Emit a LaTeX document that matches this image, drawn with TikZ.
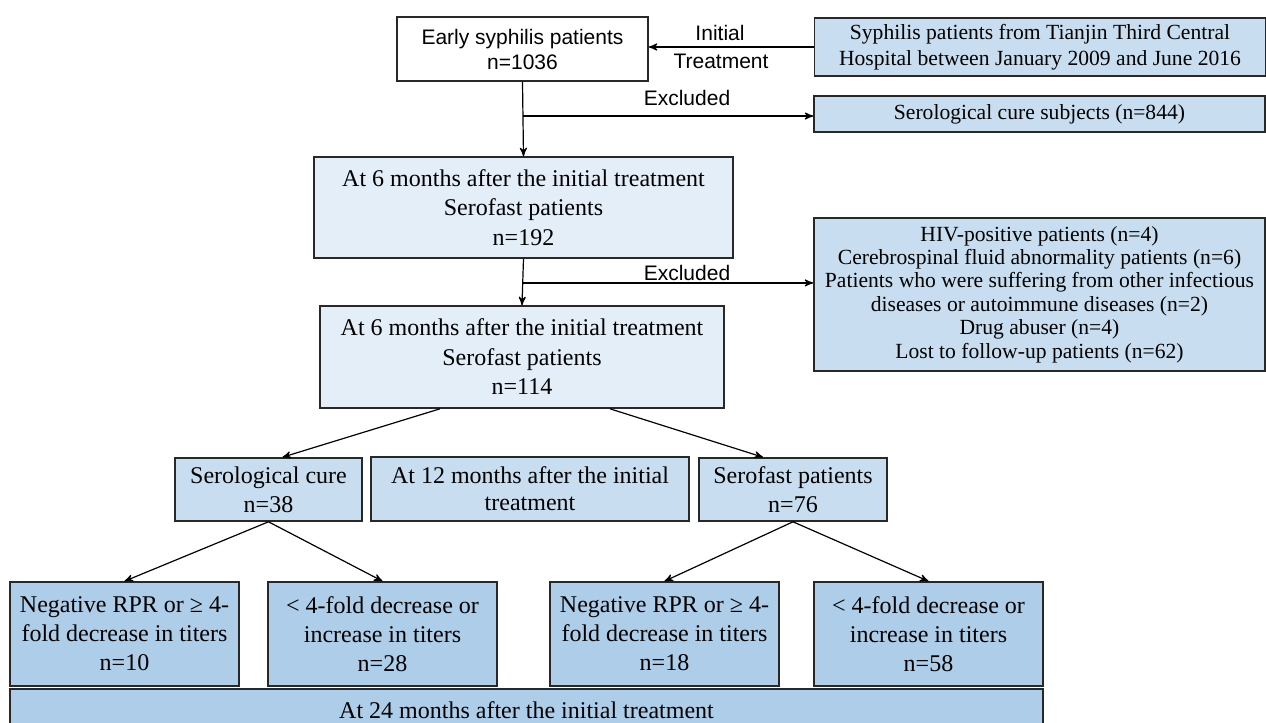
\documentclass[tikz,border=0pt]{standalone}
\usepackage{fontspec}
\setmainfont{Liberation Serif}
\setsansfont{Liberation Sans}
\usepackage{tikz}
\usetikzlibrary{shapes,arrows,positioning,calc}

\definecolor{paleblue}{RGB}{227,238,248}
\definecolor{midblue}{RGB}{200,222,240}
\definecolor{deepblue}{RGB}{174,205,233}
\definecolor{edgegray}{RGB}{40,40,40}

\begin{document}
\begin{tikzpicture}[x=0.5pt, y=-0.5pt, ->, >=stealth', line width=0.6pt,
    flowbox/.style={shape=rectangle, draw=edgegray, line width=0.8pt, align=center,
        inner sep=0pt, font=\fontsize{12}{14.5}\selectfont},
    sidebox/.style={flowbox, fill=midblue, minimum width=225.5pt,
        font=\fontsize{10.8}{13}\selectfont},
    resultbox/.style={flowbox, fill=deepblue, minimum width=114.5pt, minimum height=52pt},
    lbl/.style={font=\sffamily\fontsize{10.5}{12.5}\selectfont, inner sep=0pt}]
  \useasboundingbox (0,0) rectangle (1266,723);

  % top row
  \node[flowbox, fill=white, font=\sffamily\fontsize{10.5}{12.5}\selectfont,
      minimum width=125.5pt, minimum height=32pt] (early) at (522.5,49)
      {Early syphilis patients\\n=1036};
  \node[sidebox, minimum height=29pt] (src) at (1040,47)
      {Syphilis patients from Tianjin Third Central\\Hospital between January 2009 and June 2016};
  \node[sidebox, minimum height=18pt] (cure844) at (1039.5,114)
      {Serological cure subjects (n=844)};

  % 6 months
  \node[flowbox, fill=paleblue, minimum width=209.5pt, minimum height=50.5pt,
      font=\fontsize{12}{14.75}\selectfont] (six192) at (523.5,207.5)
      {At 6 months after the initial treatment\\Serofast patients\\n=192};
  \node[flowbox, fill=paleblue, minimum width=202pt, minimum height=51pt,
      font=\fontsize{12}{14.75}\selectfont] (six114) at (522,357)
      {At 6 months after the initial treatment\\Serofast patients\\n=114};
  \node[sidebox, minimum height=76.5pt, font=\fontsize{10.8}{11.7}\selectfont] (excl) at (1039.5,294.5)
      {HIV-positive patients (n=4)\\Cerebrospinal fluid abnormality patients (n=6)\\
       Patients who were suffering from other infectious\\diseases or autoimmune diseases (n=2)\\
       Drug abuser (n=4)\\Lost to follow-up patients (n=62)};

  % 12 months
  \node[flowbox, fill=midblue, minimum width=93.5pt, minimum height=31.5pt] (cure38) at (268.5,489.5)
      {Serological cure\\n=38};
  \node[flowbox, fill=midblue, minimum width=159pt, minimum height=32pt,
      font=\fontsize{12}{13.5}\selectfont] (month12) at (530,489)
      {At 12 months after the initial\\treatment};
  \node[flowbox, fill=midblue, minimum width=94pt, minimum height=31.5pt] (fast76) at (793,489.5)
      {Serofast patients\\n=76};

  % 24 months
  \node[resultbox] (neg10) at (124.5,634)
      {Negative RPR or ≥ 4-\\fold decrease in titers\\n=10};
  \node[resultbox] (inc28) at (382.5,634)
      {< 4-fold decrease or\\increase in titers\\n=28};
  \node[resultbox] (neg18) at (664.5,634)
      {Negative RPR or ≥ 4-\\fold decrease in titers\\n=18};
  \node[resultbox] (inc58) at (928.5,634)
      {< 4-fold decrease or\\increase in titers\\n=58};
  \node[flowbox, fill=deepblue, minimum width=516.5pt, minimum height=21pt] (month24) at (526.5,710)
      {At 24 months after the initial treatment};

  % labels
  \node[lbl] (lblinit) at (720,33) {Initial};
  \node[lbl] (lbltreat) at (721,61) {Treatment};
  \node[lbl] (lblexcl) at (687,98) {Excluded};
  \node[lbl] (lblexcltwo) at (687,273) {Excluded};

  % connectors
  \coordinate (brone) at ($(early.south)!0.46!(six192.north)$);
  \coordinate (brtwo) at ($(six192.south)!0.52!(six114.north)$);
  \draw (src.west) -- (src.west -| early.east);
  \draw (early.south) -- (six192.north);
  \draw (brone) -- (brone -| cure844.west);
  \draw (six192.south) -- (six114.north);
  \draw (brtwo) -- (brtwo -| excl.west);
  \draw ($(six114.south)+(-82,0)$) -- ($(cure38.north)+(14,0)$);
  \draw ($(six114.south)+(88,0)$) -- ($(fast76.north)+(-30,0)$);
  \draw (cure38.south) -- (neg10.north);
  \draw (cure38.south) -- (inc28.north);
  \draw (fast76.south) -- (neg18.north);
  \draw (fast76.south) -- (inc58.north);
\end{tikzpicture}
\end{document}
